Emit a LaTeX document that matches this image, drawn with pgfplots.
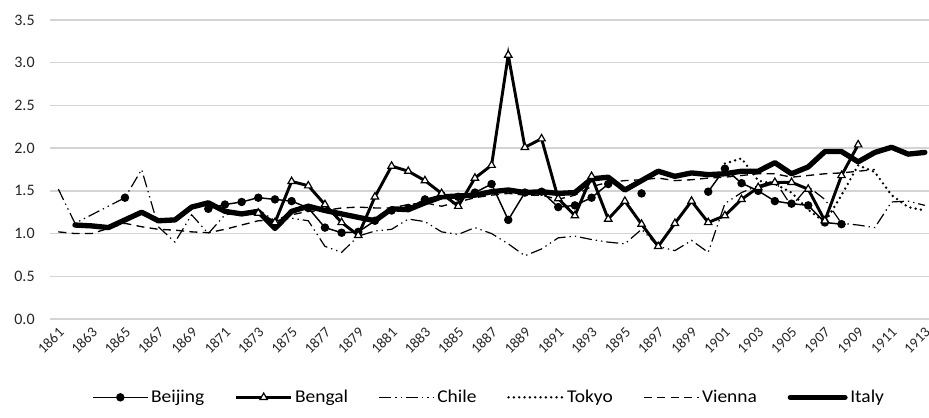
\documentclass[border=0pt]{standalone}
\usepackage{fontspec}
\setmainfont{Carlito}
\newfontfamily\legfont[FakeStretch=1.08]{Carlito}
\usepackage{pgfplots}
\pgfplotsset{compat=1.18}
\usepackage{pgfplotstable}

\pgfplotstableread{
year beijing bengal chile tokyo vienna italy
1861 nan nan 1.52 nan 1.02 nan
1862 nan nan 1.12 nan 1.00 1.10
1863 nan nan 1.22 nan 1.00 1.09
1864 nan nan 1.32 nan 1.06 1.07
1865 1.42 nan 1.42 nan 1.12 1.16
1866 nan nan 1.75 nan 1.08 1.25
1867 nan nan 1.08 nan 1.05 1.15
1868 nan nan 0.90 nan 1.04 1.16
1869 nan nan 1.22 nan 1.02 1.31
1870 1.29 nan 1.00 nan 1.01 1.36
1871 1.34 nan 1.22 nan 1.05 1.26
1872 1.37 nan 1.25 nan 1.10 1.23
1873 1.42 1.24 1.28 nan 1.15 1.26
1874 1.40 1.13 1.15 nan 1.16 1.06
1875 1.38 1.61 1.18 nan 1.22 1.26
1876 1.30 1.56 1.15 nan 1.26 1.32
1877 1.07 1.34 0.85 nan 1.27 1.27
1878 1.01 1.13 0.78 nan 1.30 1.23
1879 1.02 0.98 0.97 nan 1.31 1.19
1880 1.15 1.43 1.03 nan 1.30 1.15
1881 1.27 1.79 1.05 nan 1.30 1.29
1882 1.30 1.73 1.17 nan 1.34 1.28
1883 1.40 1.62 1.14 nan 1.36 1.36
1884 1.45 1.47 1.02 nan 1.32 1.43
1885 1.43 1.32 0.99 nan 1.37 1.44
1886 1.48 1.65 1.07 nan 1.42 1.45
1887 1.58 1.80 1.00 nan 1.45 1.49
1888 1.16 3.09 0.88 nan 1.47 1.51
1889 1.48 2.01 0.74 nan 1.45 1.48
1890 1.49 2.11 0.82 nan 1.45 1.49
1891 1.31 1.41 0.95 nan 1.40 1.47
1892 1.33 1.21 0.97 nan 1.45 1.48
1893 1.42 1.67 0.93 nan 1.55 1.64
1894 1.58 1.17 0.90 nan 1.60 1.66
1895 nan 1.38 0.88 nan 1.62 1.51
1896 1.47 1.11 1.05 nan 1.63 1.62
1897 nan 0.85 0.85 nan 1.65 1.73
1898 nan 1.12 0.80 nan 1.62 1.67
1899 nan 1.38 0.92 nan 1.63 1.71
1900 1.49 1.13 0.78 nan 1.65 1.69
1901 1.76 1.21 1.35 1.82 1.66 1.70
1902 1.59 1.40 1.48 1.88 1.68 1.73
1903 1.50 1.54 1.56 1.62 1.70 1.73
1904 1.38 1.60 1.62 1.58 1.70 1.83
1905 1.35 1.60 1.32 1.48 1.66 1.70
1906 1.33 1.52 1.55 1.28 1.68 1.78
1907 1.13 1.15 1.40 1.13 1.70 1.96
1908 1.11 1.68 1.12 1.45 1.71 1.96
1909 nan 2.04 1.10 1.80 1.73 1.84
1910 nan nan 1.07 1.72 1.75 1.95
1911 nan nan 1.37 1.45 nan 2.01
1912 nan nan 1.38 1.31 nan 1.93
1913 nan nan 1.33 1.27 nan 1.95
}\data

\begin{document}
\begin{tikzpicture}
\begin{axis}[
  at={(0pt,0pt)}, anchor=south west,
  scale only axis, width=659.25pt, height=224.25pt,
  xmin=1860.5, xmax=1913.25, ymin=0, ymax=3.5,
  axis line style={draw=none},
  major tick length=0pt,
  ytick={0,0.5,1,1.5,2,2.5,3,3.5},
  ymajorgrids,
  grid style={black!17, line width=1.1pt},
  xtick={1861,1863,...,1913},
  /pgf/number format/assume math mode=true,
  xticklabel style={/pgf/number format/1000 sep=, rotate=45, anchor=north east, inner sep=1pt, yshift=-2.5pt, xshift=-3.2pt, font=\fontsize{11}{12}\selectfont, text=black!85},
  yticklabel style={/pgf/number format/fixed, /pgf/number format/precision=1, /pgf/number format/fixed zerofill, font=\fontsize{12}{13}\selectfont, text=black!85, xshift=-8pt},
  unbounded coords=jump,
  legend columns=6,
  legend style={at={(0.5,-0.262)}, anchor=center, draw=none, font=\legfont\fontsize{13.5}{14}\selectfont,
    /tikz/every even column/.append style={column sep=21pt}},
  legend cell align=left,
  legend image code/.code={\draw[mark repeat=2,mark phase=2,#1] plot coordinates {(0cm,0cm) (0.72cm,0cm) (1.44cm,0cm)};},
]
\addplot[black, line width=1.1pt, mark=*, mark size=2.6pt, mark options={solid}] table[x=year, y=beijing] {\data};
\addlegendentry{Beijing}
\addplot[black, line width=2.2pt, mark=triangle*, mark size=3.2pt, mark options={solid, fill=white, line width=0.9pt}] table[x=year, y=bengal] {\data};
\addlegendentry{Bengal}
\addplot[black, line width=0.9pt, dash pattern=on 9pt off 3pt on 1pt off 3pt on 1pt off 3pt] table[x=year, y=chile] {\data};
\addlegendentry{Chile}
\addplot[black, line width=2pt, line cap=round, dash pattern=on 0pt off 4pt] table[x=year, y=tokyo] {\data};
\addlegendentry{Tokyo}
\addplot[black, line width=1pt, dash pattern=on 6pt off 4pt] table[x=year, y=vienna] {\data};
\addlegendentry{Vienna}
\addplot[black, line width=4pt, line join=round, line cap=round] table[x=year, y=italy] {\data};
\addlegendentry{Italy}
\end{axis}
\pgfresetboundingbox
\path[use as bounding box] (-37.5pt,-74.25pt) rectangle (659.25pt,239.25pt);
\end{tikzpicture}
\end{document}
